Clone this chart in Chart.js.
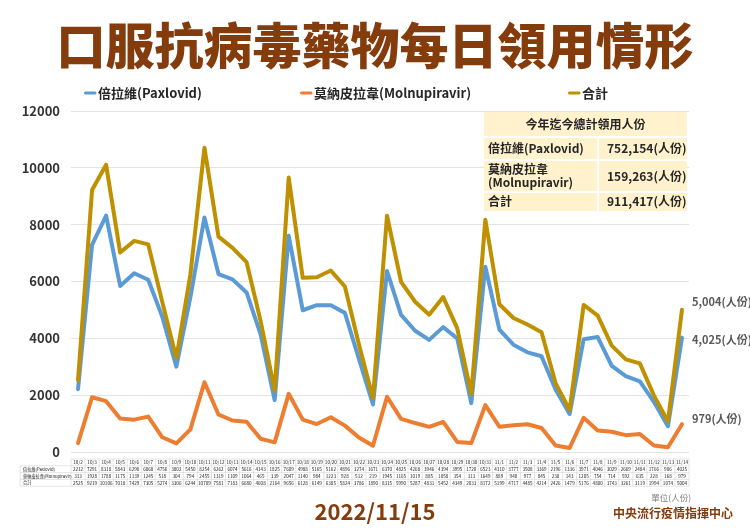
<!DOCTYPE html>
<html>
<head>
<meta charset="utf-8">
<script src="https://cdn.jsdelivr.net/npm/chart.js@4.4.1/dist/chart.umd.min.js"></script>
<style>
html,body{margin:0;padding:0;background:#fff;}
#wrap{width:750px;height:531px;position:relative;}
</style>
</head>
<body>
<div id="wrap"><canvas id="c"></canvas></div>
<script>
const titleText = '口服抗病毒藥物每日領用情形';
const seriesNames = ['倍拉維(Paxlovid)', '莫納皮拉韋(Molnupiravir)', '合計'];
const dates = ['10/2','10/3','10/4','10/5','10/6','10/7','10/8','10/9','10/10','10/11','10/12','10/13','10/14','10/15','10/16','10/17','10/18','10/19','10/20','10/21','10/22','10/23','10/24','10/25','10/26','10/27','10/28','10/29','10/30','10/31','11/1','11/2','11/3','11/4','11/5','11/6','11/7','11/8','11/9','11/10','11/11','11/12','11/13','11/14'];
const paxlovid = [2212,7291,8318,5843,6290,6060,4756,3002,5450,8254,6262,6074,5616,4143,1825,7609,4988,5165,5162,4896,3274,1671,6370,4825,4268,3946,4394,3995,1720,6523,4310,3777,3508,3369,2196,1336,3971,4046,3029,2669,2484,1766,906,4025];
const molnupiravir = [313,1928,1788,1175,1139,1245,518,304,794,2455,1319,1109,1064,465,339,2047,1140,984,1223,928,512,219,1945,1165,1019,885,1058,354,313,1649,889,940,977,845,230,143,1205,754,714,592,635,228,168,979];
const total = [2525,9219,10106,7018,7429,7305,5274,3306,6244,10709,7581,7183,6680,4608,2164,9656,6128,6149,6385,5824,3786,1890,8315,5990,5287,4831,5452,4349,2033,8172,5199,4717,4485,4214,2426,1479,5176,4800,3743,3261,3119,1994,1074,5004];
const yTicks = [0,2000,4000,6000,8000,10000,12000];
const summaryTitle = '今年迄今總計領用人份';
const summaryLabels = [['倍拉維(Paxlovid)'], ['莫納皮拉韋', '(Molnupiravir)'], ['合計']];
const summaryValues = ['752,154(人份)', '159,263(人份)', '911,417(人份)'];
const tableRowLabels = ['倍拉維(Paxlovid)', '莫納皮拉韋(Molnupiravir)', '合計'];
const unitSuffix = '(人份)';
const unitNote = '單位(人份)';
const publishDate = '2022/11/15';
const sourceName = '中央流行疫情指揮中心';

const FONT = "'Noto Sans CJK TC','Noto Sans',sans-serif";
const COLORS = ['#5b9bd5', '#ed7d31', '#bf9000'];
const BROWN = '#843c0c';
const seriesData = [paxlovid, molnupiravir, total];

const overlay = {
  id: 'overlay',
  afterDatasetsDraw(chart) {
    const ctx = chart.ctx;
    ctx.save();
    // end-of-line value labels
    const dy = [2, -5, -8];
    ctx.font = `bold 11px ${FONT}`;
    ctx.fillStyle = '#595959';
    ctx.textAlign = 'left';
    ctx.textBaseline = 'middle';
    seriesData.forEach((arr, i) => {
      const meta = chart.getDatasetMeta(i);
      const pt = meta.data[arr.length - 1];
      ctx.fillText(arr[arr.length - 1].toLocaleString('en-US') + unitSuffix, pt.x + 10, pt.y + dy[i]);
    });
    ctx.restore();
  },
  afterDraw(chart) {
    const ctx = chart.ctx;
    ctx.save();
    ctx.textBaseline = 'middle';

    // legend
    const legendX = [84, 300, 568];
    const ly = 93;
    ctx.font = `bold 13px ${FONT}`;
    seriesNames.forEach((name, i) => {
      ctx.strokeStyle = COLORS[i];
      ctx.lineWidth = 3;
      ctx.lineCap = 'round';
      ctx.beginPath();
      ctx.moveTo(legendX[i] + 1.5, ly);
      ctx.lineTo(legendX[i] + 11, ly);
      ctx.stroke();
      ctx.fillStyle = '#262626';
      ctx.textAlign = 'left';
      ctx.fillText(name, legendX[i] + 14, ly + 0.5);
    });

    // summary inset table
    const tx0 = 484, tx1 = 687, colX = 598;
    const ty = [112, 137, 160, 192, 211];
    ctx.fillStyle = '#fff2cc';
    ctx.fillRect(tx0, ty[0], tx1 - tx0, ty[4] - ty[0]);
    ctx.strokeStyle = '#ffffff';
    ctx.lineWidth = 2;
    ctx.lineCap = 'butt';
    ctx.beginPath();
    for (let k = 1; k <= 3; k++) { ctx.moveTo(tx0, ty[k]); ctx.lineTo(tx1, ty[k]); }
    ctx.moveTo(colX, ty[1]); ctx.lineTo(colX, ty[4]);
    ctx.stroke();
    ctx.fillStyle = '#262626';
    ctx.font = `bold 12px ${FONT}`;
    ctx.textAlign = 'center';
    ctx.fillText(summaryTitle, (tx0 + tx1) / 2, (ty[0] + ty[1]) / 2);
    ctx.textAlign = 'left';
    summaryLabels.forEach((lines, r) => {
      const cy = (ty[r + 1] + ty[r + 2]) / 2;
      const lh = 13;
      lines.forEach((t, j) => {
        ctx.fillText(t, tx0 + 4, cy + (j - (lines.length - 1) / 2) * lh);
      });
      ctx.fillText(summaryValues[r], colX + 9, cy);
    });

    // data table under the chart
    const xs = chart.scales.x;
    const n = dates.length;
    const cw = xs.width / n;
    const top = 459, rh = 6.8, labelLeft = 20;
    ctx.strokeStyle = '#d4d4d4';
    ctx.lineWidth = 0.6;
    ctx.beginPath();
    ctx.moveTo(xs.left, top); ctx.lineTo(xs.right, top);
    for (let r = 1; r <= 4; r++) {
      ctx.moveTo(labelLeft, top + r * rh); ctx.lineTo(xs.right, top + r * rh);
    }
    for (let k = 0; k <= n; k++) {
      const x = xs.left + k * cw;
      ctx.moveTo(x, top); ctx.lineTo(x, top + 4 * rh);
    }
    ctx.moveTo(labelLeft, top + rh); ctx.lineTo(labelLeft, top + 4 * rh);
    ctx.stroke();
    ctx.fillStyle = '#1a1a1a';
    ctx.font = `4.6px ${FONT}`;
    ctx.textAlign = 'center';
    for (let i = 0; i < n; i++) {
      const cx = xs.getPixelForValue(i);
      ctx.fillText(dates[i], cx, top + rh * 0.5);
      seriesData.forEach((arr, r) => {
        ctx.fillText(String(arr[i]), cx, top + rh * (r + 1.5));
      });
    }
    ctx.textAlign = 'left';
    ctx.font = `4.2px ${FONT}`;
    tableRowLabels.forEach((t, r) => {
      ctx.fillText(t, labelLeft + 3, top + rh * (r + 1.5));
    });

    // footer texts
    ctx.textAlign = 'right';
    ctx.fillStyle = '#7f7f7f';
    ctx.font = `8.5px ${FONT}`;
    ctx.fillText(unitNote, 691, 498);
    ctx.fillStyle = BROWN;
    ctx.font = `bold 12px ${FONT}`;
    ctx.fillText(sourceName, 733, 513);
    ctx.restore();
  }
};

new Chart(document.getElementById('c'), {
  type: 'line',
  data: {
    labels: dates,
    datasets: seriesNames.map((name, i) => ({
      label: name,
      data: seriesData[i],
      borderColor: COLORS[i],
      backgroundColor: COLORS[i],
      borderWidth: 4,
      pointRadius: 0,
      tension: 0,
      borderJoinStyle: 'round',
      borderCapStyle: 'round',
      order: 3 - i
    }))
  },
  options: {
    responsive: true,
    maintainAspectRatio: false,
    animation: false,
    layout: { padding: 0 },
    plugins: {
      legend: { display: false },
      tooltip: { enabled: false },
      title: {
        display: true,
        text: titleText,
        color: BROWN,
        font: { family: FONT, size: 49, weight: '900', lineHeight: 1.2 },
        padding: { top: 16, bottom: 36.2 }
      },
      subtitle: {
        display: true,
        position: 'bottom',
        text: publishDate,
        color: BROWN,
        font: { family: FONT, size: 22, weight: 'bold', lineHeight: 1.2 },
        padding: { top: 46.8, bottom: 5.8 }
      }
    },
    scales: {
      x: { type: 'category', offset: true, display: false },
      y: {
        min: 0, max: 12000,
        afterBuildTicks: s => { s.ticks = yTicks.map(v => ({ value: v })); },
        ticks: { font: { family: FONT, size: 13, weight: 'bold' }, color: '#333333', padding: 11, callback: v => String(v) },
        grid: { color: '#e4e4e4', drawTicks: false },
        border: { display: false },
        afterFit: s => { s.width = 71; }
      },
      y2: {
        position: 'right',
        display: true,
        grid: { display: false },
        border: { display: false },
        ticks: { display: false },
        afterFit: s => { s.width = 61; }
      }
    }
  },
  plugins: [overlay]
});
</script>
</body>
</html>
